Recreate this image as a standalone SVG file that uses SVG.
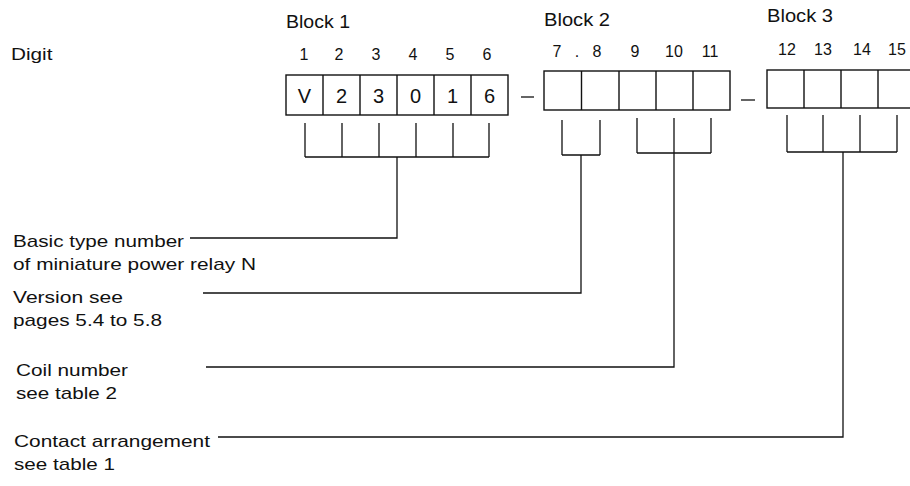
<svg xmlns="http://www.w3.org/2000/svg" width="910" height="486" viewBox="0 0 910 486">
<style>
text{font-family:"Liberation Sans",Arial,sans-serif;fill:#111}
.lbl{font-size:17px}
.blk{font-size:18px}
.num{font-size:16px;text-anchor:middle}
.cell{font-size:20px;text-anchor:middle}
.box{fill:none;stroke:#111;stroke-width:1.4}
.ln{fill:none;stroke:#111;stroke-width:1.3}
</style>
<rect width="910" height="486" fill="#fff"/>
<text class="lbl" x="11" y="60" textLength="41.5" lengthAdjust="spacingAndGlyphs">Digit</text>

<g id="block1">
<text class="blk" x="286" y="28" textLength="64" lengthAdjust="spacingAndGlyphs">Block 1</text>
<text class="num" x="304" y="60">1</text>
<text class="num" x="339" y="60">2</text>
<text class="num" x="376" y="60">3</text>
<text class="num" x="413" y="60">4</text>
<text class="num" x="450" y="60">5</text>
<text class="num" x="487" y="60">6</text>
<rect class="box" x="286" y="75" width="222" height="40"/>
<path class="box" d="M323 75V115M360 75V115M397 75V115M434 75V115M471 75V115"/>
<text class="cell" x="304.5" y="103">V</text>
<text class="cell" x="341.5" y="103">2</text>
<text class="cell" x="378.5" y="103">3</text>
<text class="cell" x="415.5" y="103">0</text>
<text class="cell" x="452.5" y="103">1</text>
<text class="cell" x="489.5" y="103">6</text>
</g>

<g id="dash1"><path class="ln" d="M521 97H534"/></g>

<g id="block2">
<text class="blk" x="544" y="26" textLength="66" lengthAdjust="spacingAndGlyphs">Block 2</text>
<text class="num" x="557" y="57">7</text>
<text class="num" x="577" y="57">.</text>
<text class="num" x="597" y="57">8</text>
<text class="num" x="635" y="57">9</text>
<text class="num" x="674" y="57">10</text>
<text class="num" x="710" y="57">11</text>
<rect class="box" x="544" y="71" width="186" height="39"/>
<path class="box" d="M581.5 71V110M619 71V110M656 71V110M693 71V110"/>
</g>

<g id="dash2"><path class="ln" d="M741 100H755"/></g>

<g id="block3">
<text class="blk" x="767" y="22" textLength="66" lengthAdjust="spacingAndGlyphs">Block 3</text>
<text class="num" x="787" y="55">12</text>
<text class="num" x="823" y="55">13</text>
<text class="num" x="862" y="55">14</text>
<text class="num" x="897" y="55">15</text>
<rect class="box" x="767" y="70" width="150" height="38"/>
<path class="box" d="M804 70V108M841 70V108M878 70V108"/>
</g>

<g id="connectors">
<path class="ln" d="M305 123V157M342 123V157M379 123V157M416 123V157M453 123V157M489 123V157M305 157H489M397 157V238H190"/>
<path class="ln" d="M562 120V155M600 120V155M562 155H600M581 155V293H203"/>
<path class="ln" d="M637 118V153M674 118V153M711 118V153M637 153H711M674 153V367H206"/>
<path class="ln" d="M787 115V152M823 115V152M860 115V152M897 115V152M787 152H897M843 152V437H218"/>
</g>

<g id="label-basic">
<text class="lbl" x="13" y="247" textLength="171" lengthAdjust="spacingAndGlyphs">Basic type number</text>
<text class="lbl" x="13" y="270" textLength="243" lengthAdjust="spacingAndGlyphs">of miniature power relay N</text>
</g>
<g id="label-version">
<text class="lbl" x="13" y="303" textLength="110" lengthAdjust="spacingAndGlyphs">Version see</text>
<text class="lbl" x="13" y="326" textLength="149" lengthAdjust="spacingAndGlyphs">pages 5.4 to 5.8</text>
</g>
<g id="label-coil">
<text class="lbl" x="16" y="376" textLength="112" lengthAdjust="spacingAndGlyphs">Coil number</text>
<text class="lbl" x="16" y="399" textLength="101" lengthAdjust="spacingAndGlyphs">see table 2</text>
</g>
<g id="label-contact">
<text class="lbl" x="14" y="447" textLength="196" lengthAdjust="spacingAndGlyphs">Contact arrangement</text>
<text class="lbl" x="14" y="470" textLength="101" lengthAdjust="spacingAndGlyphs">see table 1</text>
</g>
</svg>
